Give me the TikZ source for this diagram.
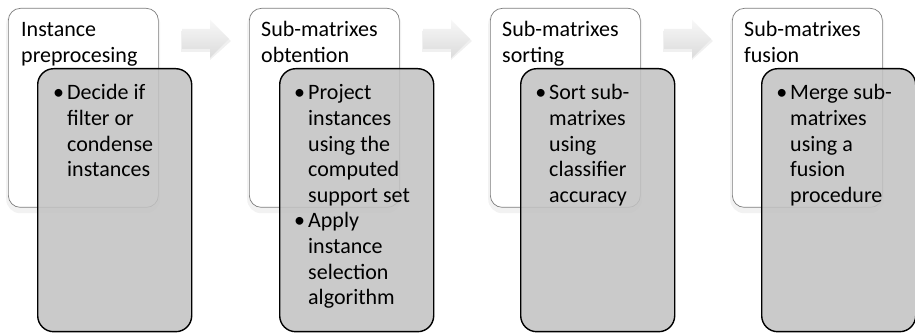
\documentclass[tikz,border=0pt]{standalone}
\usepackage{fontspec}
\setmainfont{Carlito}
\definecolor{boxgray}{RGB}{194,194,194}
\definecolor{boxline}{RGB}{125,125,125}
\newcommand\mybul{\leavevmode\llap{\textbullet\hspace{3pt}}}
\tikzset{
  whitebox/.style={draw=boxline, line width=0.7pt, fill=white, rounded corners=12pt,
    minimum width=150pt, minimum height=199pt, anchor=north west, inner sep=0pt},
  wshadow/.style={fill=black, fill opacity=0.05, draw=none, rounded corners=14pt,
    minimum width=154pt, minimum height=203pt, anchor=north west, inner sep=0pt},
  graybox/.style={draw=black, line width=1.4pt, fill=boxgray, fill opacity=0.86,
    rounded corners=16pt, minimum width=154pt, minimum height=263pt,
    anchor=north west, inner sep=0pt},
  txt/.style={anchor=base west, inner sep=0pt, font=\fontsize{22}{25.6}\selectfont},
  flow/.style={top color=gray!6, bottom color=gray!28, draw=none},
  flowshadow/.style={fill=black, fill opacity=0.06, draw=none},
}
\begin{document}
\begin{tikzpicture}[x=1pt,y=-1pt]
\useasboundingbox (0,0) rectangle (915,336);
\fill[white] (0,0) rectangle (915,336);
% arrows
\foreach \ax [count=\i] in {182,423,664} {
  \path[flowshadow] (\ax-1,31) -- (\ax+28,31) -- (\ax+28,22) -- (\ax+49,41) -- (\ax+28,60) -- (\ax+28,52) -- (\ax-1,52) -- cycle;
  \path[flow] (\ax,29) -- (\ax+28,29) -- (\ax+28,20) -- (\ax+47,39) -- (\ax+28,58) -- (\ax+28,49) -- (\ax,49) -- cycle;
}
% stage 1
\node[wshadow] (s1) at (6,10) {};
\node[whitebox] (w1) at (8,8) {};
\node[txt] (t1) at (21,37) {\parbox[t]{145pt}{Instance\\preprocesing}};
\node[graybox] (g1) at (37,68) {};
\node[txt] (b1) at (67,100) {\parbox[t]{125pt}{\mybul Decide if\\filter or\\condense\\instances}};
% stage 2
\node[wshadow] (s2) at (247,10) {};
\node[whitebox] (w2) at (249,8) {};
\node[txt] (t2) at (261,37) {\parbox[t]{145pt}{Sub-matrixes\\obtention}};
\node[graybox] (g2) at (279,68) {};
\node[txt] (b2) at (308,100) {\parbox[t]{125pt}{\mybul Project\\instances\\using the\\computed\\support set\\\mybul Apply\\instance\\selection\\algorithm}};
% stage 3
\node[wshadow] (s3) at (488,10) {};
\node[whitebox] (w3) at (490,8) {};
\node[txt] (t3) at (502,37) {\parbox[t]{145pt}{Sub-matrixes\\sorting}};
\node[graybox] (g3) at (520,68) {};
\node[txt] (b3) at (549,100) {\parbox[t]{125pt}{\mybul Sort sub-\\matrixes\\using\\classifier\\accuracy}};
% stage 4
\node[wshadow] (s4) at (730,10) {};
\node[whitebox] (w4) at (732,8) {};
\node[txt] (t4) at (744,37) {\parbox[t]{145pt}{Sub-matrixes\\fusion}};
\node[graybox] (g4) at (761,68) {};
\node[txt] (b4) at (790,100) {\parbox[t]{125pt}{\mybul Merge sub-\\matrixes\\using a\\fusion\\procedure}};
\end{tikzpicture}
\end{document}
